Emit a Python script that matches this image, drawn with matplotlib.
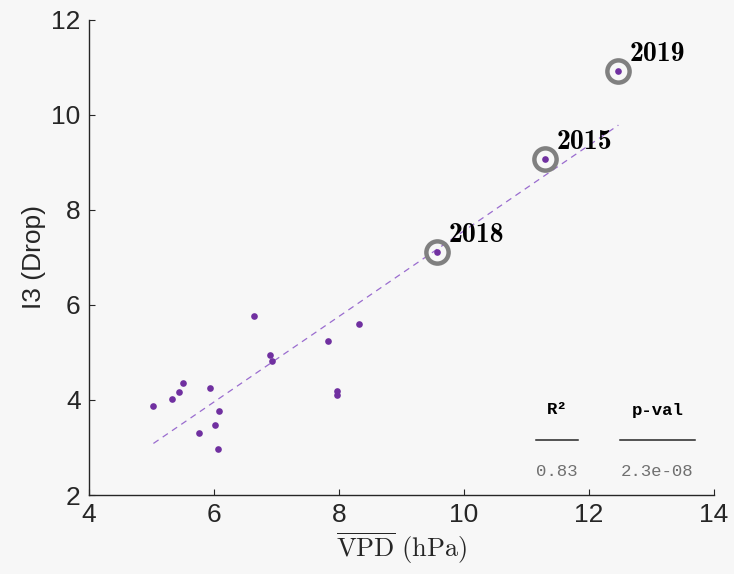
import os
import numpy as np
import matplotlib
import matplotlib.pyplot as plt
from matplotlib.font_manager import FontProperties

plt.rcParams['font.family'] = ['Liberation Sans', 'DejaVu Sans']
plt.rcParams['mathtext.fontset'] = 'cm'

# mean VPD (hPa) and I3 drop per year
vpd = [5.03, 5.33, 5.44, 5.50, 5.76, 5.94, 6.01, 6.08, 6.07, 6.64, 6.90, 6.92,
       7.83, 8.32, 7.97, 7.97, 9.57, 11.30, 12.47]
drop = [3.87, 4.01, 4.16, 4.36, 3.30, 4.26, 3.48, 3.77, 2.97, 5.77, 4.94, 4.82,
        5.25, 5.59, 4.18, 4.11, 7.11, 9.07, 10.93]

# highlighted years
years = ['2018', '2015', '2019']
year_vpd = [9.57, 11.30, 12.47]
year_drop = [7.11, 9.07, 10.93]

r2_text = '0.83'
pval_text = '2.3e-08'

purple = '#7030a0'
bg = '#f7f7f7'

# computer modern bold for the year labels
cmb = FontProperties(fname=os.path.join(matplotlib.get_data_path(), 'fonts', 'ttf', 'cmb10.ttf'), size=20)

fig = plt.figure(figsize=(7.34, 5.74), dpi=100, facecolor=bg)
ax = fig.add_axes([0.1213, 0.1376, 0.8515, 0.8281])
ax.set_facecolor(bg)

# linear fit
coef = np.polyfit(vpd, drop, 1)
xf = np.array([min(vpd), max(vpd)])
ax.plot(xf, np.polyval(coef, xf), '--', color='#9a6ccf', linewidth=0.9, dashes=(5, 4))

ax.plot(year_vpd, year_drop, 'o', markersize=16, markerfacecolor='none',
        markeredgecolor='#808080', markeredgewidth=3.2, zorder=3)
ax.plot(vpd, drop, 'o', color=purple, markersize=4.8, markeredgewidth=0, zorder=4)

for yr, x, y in zip(years, year_vpd, year_drop):
    ax.annotate(yr, (x, y), xytext=(8, 7), textcoords='offset points',
                fontproperties=cmb, color='black')

ax.set_xlim(4, 14)
ax.set_ylim(2, 12)
ax.set_xticks([4, 6, 8, 10, 12, 14])
ax.set_yticks([2, 4, 6, 8, 10, 12])
for s in ['top', 'right']:
    ax.spines[s].set_visible(False)
for s in ['left', 'bottom']:
    ax.spines[s].set_color('#262626')
    ax.spines[s].set_linewidth(1.0)
ax.tick_params(direction='in', length=4.5, width=0.8, colors='#262626', labelsize=19, pad=6)

ax.set_ylabel('I3 (Drop)', fontsize=19, color='#262626', labelpad=4)
ax.set_xlabel(r'$\overline{\mathrm{VPD}}\ \mathrm{(hPa)}$', fontsize=19, color='#262626', labelpad=2)

# stats box
mono = 'Liberation Mono'
fig.text(557 / 734, 1 - 410 / 574, 'R²', family=mono, fontweight='bold', fontsize=12.5,
         ha='center', va='center')
fig.text(658 / 734, 1 - 410 / 574, 'p-val', family=mono, fontweight='bold', fontsize=12.5,
         ha='center', va='center')
fig.add_artist(plt.Line2D([536 / 734, 578 / 734], [1 - 440 / 574] * 2, color='#262626', linewidth=1.1))
fig.add_artist(plt.Line2D([620 / 734, 695 / 734], [1 - 440 / 574] * 2, color='#262626', linewidth=1.1))
fig.text(557 / 734, 1 - 471 / 574, r2_text, family=mono, fontsize=12.5, color='#707070',
         ha='center', va='center')
fig.text(657 / 734, 1 - 471 / 574, pval_text, family=mono, fontsize=12.5, color='#707070',
         ha='center', va='center')

fig.savefig('out.png', dpi=100, facecolor=bg)
